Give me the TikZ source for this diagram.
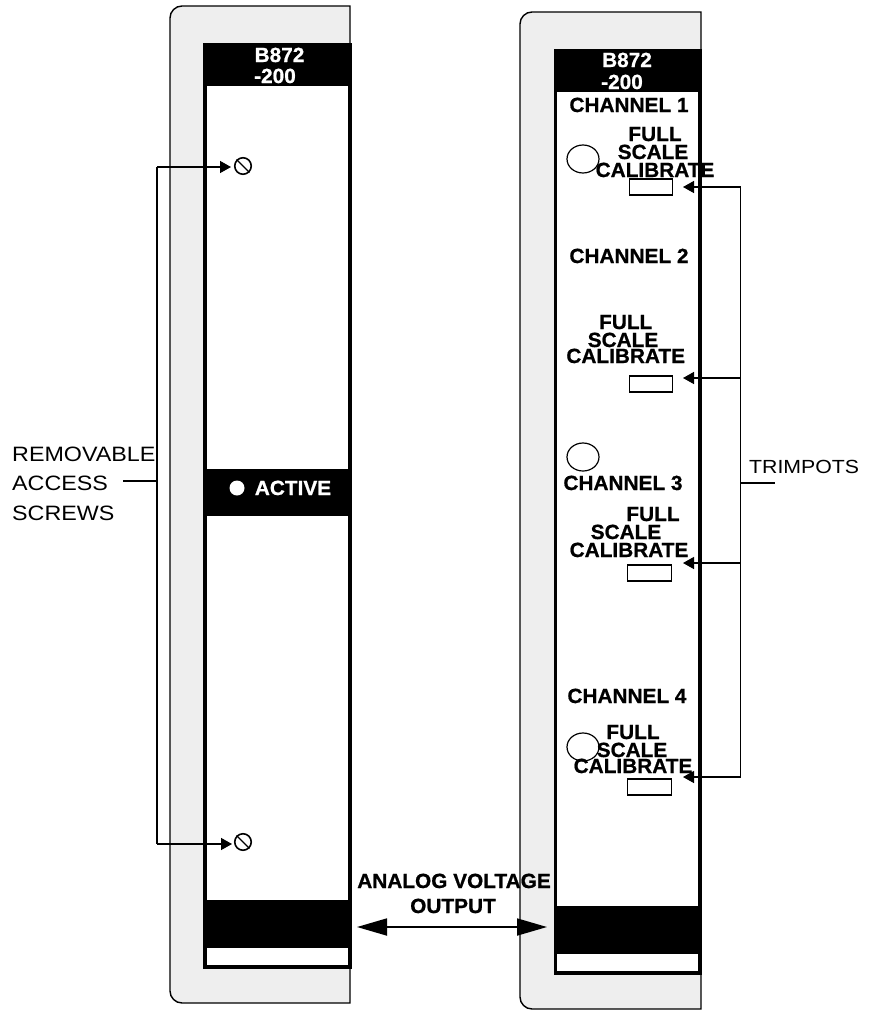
\documentclass[tikz,border=0pt]{standalone}
\usepackage{fontspec}
\usetikzlibrary{arrows.meta}
\newfontfamily\regf[FakeStretch=1.12]{Liberation Sans}
\newfontfamily\bldf[FakeStretch=1.015,FakeBold=0.8]{Liberation Sans Bold}
\definecolor{panelgray}{HTML}{EEEEEE}
\tikzset{
  x=1pt,y=-1pt,
  panel/.style={draw=black,fill=panelgray,line width=1.4pt},
  frame/.style={draw=black,fill=white,line width=3.2pt},
  band/.style={fill=black,draw=none},
  wire/.style={draw=black,line width=1.4pt},
  tipped/.style={wire,-{Triangle[length=11pt,width=12pt]}},
  bigtips/.style={draw=black,line width=1.8pt,{Triangle[length=30pt,width=17pt]}-{Triangle[length=30pt,width=17pt]}},
  boldtext/.style={anchor=base,inner sep=0pt,font=\bldf\fontsize{20.5}{22}\selectfont,text=black},
  whitetext/.style={boldtext,text=white},
  plaintext/.style={anchor=base west,inner sep=0pt,font=\regf\fontsize{20.8}{22}\selectfont,text=black},
  trimtext/.style={anchor=base west,inner sep=0pt,font=\regf\fontsize{19}{22}\selectfont,text=black},
  trimrect/.style={draw=black,fill=white,line width=1.2pt,inner sep=0pt,minimum width=43.5pt,minimum height=16pt},
  knob/.style={draw=black,line width=1.2pt,fill=none},
  screwhead/.style={draw=black,circle,line width=1.6pt,minimum size=16.5pt,inner sep=0pt},
}
\begin{document}
\begin{tikzpicture}
\useasboundingbox (0,0) rectangle (871,1010);
% left panel
\draw[panel] (350,6) [rounded corners=12pt] -- (170,6) -- (170,1003) -- (335,1003) [sharp corners] -- (350,1003) -- cycle;
\draw[frame] (205,44.5) rectangle (350,967);
\fill[band] (203.4,43) rectangle (351.6,86);
\fill[band] (203.4,469) rectangle (351.6,516);
\fill[band] (203.4,900) rectangle (351.6,948);
% right panel
\draw[panel] (701,12) [rounded corners=12pt] -- (520,12) -- (520,1009) -- (685,1009) [sharp corners] -- (701,1009) -- cycle;
\draw[frame] (555.5,50.5) rectangle (700,973);
\fill[band] (553.9,49) rectangle (701.6,92);
\fill[band] (553.9,906) rectangle (701.6,954);
% left labels
\node[whitetext] (lb) at (279.5,62) {B872};
\node[whitetext] (lc) at (275,83) {-200};
\fill[white] (237,488) circle (7.5);
\node[whitetext] (act) at (293,495) {ACTIVE};
% screws
\node[screwhead] (s1) at (243,166) {};
\node[screwhead] (s2) at (243,842) {};
\draw[wire] (s1.north west) -- (s1.south east);
\draw[wire] (s2.north west) -- (s2.south east);
\coordinate (bt) at (157,167);
\coordinate (bb) at (157,844);
\coordinate (bm) at (157,481);
\coordinate (bs) at (123,481);
\coordinate (t1) at (231,167);
\coordinate (t2) at (232,844);
\draw[wire] (bt) -- (bb);
\draw[wire] (bs) -- (bm);
\draw[tipped] (bt) -- (t1);
\draw[tipped] (bb) -- (t2);
\node[plaintext] (r1) at (12,461) {REMOVABLE};
\node[plaintext] (r2) at (12,490) {ACCESS};
\node[plaintext] (r3) at (12,520) {SCREWS};
% right labels
\node[whitetext] (rb) at (627,67) {B872};
\node[whitetext] (rc) at (622,89) {-200};
\node[boldtext] (c1) at (629,112) {CHANNEL 1};
\node[boldtext] (c2) at (629,263) {CHANNEL 2};
\node[boldtext] (c3) at (623,490) {CHANNEL 3};
\node[boldtext] (c4) at (627,703) {CHANNEL 4};
\draw[knob] (583,159) ellipse (16 and 14);
\draw[knob] (583,457) ellipse (16 and 14);
\draw[knob] (583,747) ellipse (16 and 14);
\node[boldtext] (f1) at (655,141) {FULL};
\node[boldtext] (g1) at (653,159) {SCALE};
\node[boldtext] (h1) at (655,177) {CALIBRATE};
\node[boldtext] (f2) at (625.7,329) {FULL};
\node[boldtext] (g2) at (623,347) {SCALE};
\node[boldtext] (h2) at (625.7,363) {CALIBRATE};
\node[boldtext] (f3) at (653,521) {FULL};
\node[boldtext] (g3) at (626,539) {SCALE};
\node[boldtext] (h3) at (629,557) {CALIBRATE};
\node[boldtext] (f4) at (633,739) {FULL};
\node[boldtext] (g4) at (632,757) {SCALE};
\node[boldtext] (h4) at (633,773) {CALIBRATE};
\node[trimrect] (p1) at (651,187) {};
\node[trimrect] (p2) at (651,384) {};
\node[trimrect] (p3) at (649.5,573) {};
\node[trimrect] (p4) at (649.5,787) {};
\coordinate (v1) at (740.5,187);
\coordinate (v2) at (740.5,378);
\coordinate (v3) at (740.5,563);
\coordinate (v4) at (740.5,777);
\coordinate (vm) at (740.5,483);
\coordinate (vs) at (775,483);
\coordinate (a1) at (683,187);
\coordinate (a2) at (683,378);
\coordinate (a3) at (683,563);
\coordinate (a4) at (683,777);
\draw[wire] (v1) -- (v4);
\draw[wire] (vm) -- (vs);
\draw[tipped] (v1) -- (a1);
\draw[tipped] (v2) -- (a2);
\draw[tipped] (v3) -- (a3);
\draw[tipped] (v4) -- (a4);
\node[trimtext] (tp) at (749,473) {TRIMPOTS};
% analog output
\node[boldtext] (an) at (454,888) {ANALOG VOLTAGE};
\node[boldtext] (ou) at (453,913) {OUTPUT};
\coordinate (ol) at (357,927);
\coordinate (or) at (547,927);
\draw[bigtips] (ol) -- (or);
\end{tikzpicture}
\end{document}
